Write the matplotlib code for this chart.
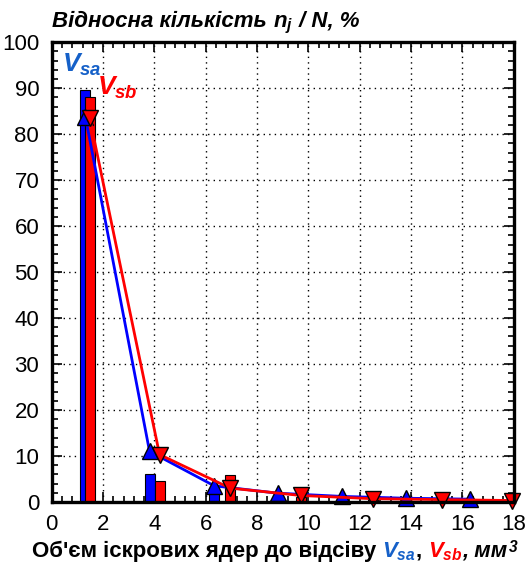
import matplotlib
matplotlib.use("Agg")
import matplotlib.pyplot as plt
from matplotlib.ticker import MultipleLocator
from matplotlib.transforms import IdentityTransform

plt.rcParams['font.family'] = ['Liberation Sans', 'DejaVu Sans']
plt.rcParams['mathtext.fontset'] = 'custom'
plt.rcParams['mathtext.it'] = 'Liberation Sans:italic:bold'
plt.rcParams['mathtext.rm'] = 'Liberation Sans:italic:bold'
plt.rcParams['mathtext.bf'] = 'Liberation Sans:italic:bold'

# data
sa_x = [1.31, 3.81, 6.33, 8.8, 11.3, 13.8, 16.3]
sa_bars = [89.6, 6.1, 2.2, 1.0, 0.8, 0.6, 0.5]
sa_line = [83.8, 11.0, 3.5, 1.9, 1.2, 0.8, 0.6]

sb_x = [1.48, 4.2, 6.95, 9.7, 12.5, 15.2, 17.95]
sb_bars = [88.1, 4.6, 5.9, 1.0, 0.6, 0.4, 0.3]
sb_line = [83.5, 10.3, 3.0, 1.4, 0.7, 0.5, 0.3]

blue = '#0000ff'
red = '#ff0000'
text_blue = '#1560c8'

fig = plt.figure(figsize=(5.28, 5.71), dpi=100)
ax = fig.add_axes([0.098, 0.121, 0.875, 0.805])

ax.bar(sa_x, sa_bars, width=0.39, color=blue, edgecolor='black', linewidth=0.8, zorder=2)
ax.bar(sb_x, sb_bars, width=0.39, color=red, edgecolor='black', linewidth=0.8, zorder=2)

ax.plot(sa_x, sa_line, color=blue, lw=2, marker='^', ms=11, mfc=blue, mec='black',
        mew=1, zorder=3, clip_on=False)
ax.plot(sb_x, sb_line, color=red, lw=2, marker='v', ms=11, mfc=red, mec='black',
        mew=1, zorder=4, clip_on=False)

ax.set_xlim(0, 18)
ax.set_ylim(0, 100)
ax.xaxis.set_major_locator(MultipleLocator(2))
ax.xaxis.set_minor_locator(MultipleLocator(0.4))
ax.yaxis.set_major_locator(MultipleLocator(10))
ax.yaxis.set_minor_locator(MultipleLocator(2))
ax.tick_params(which='both', direction='in', top=True, right=True, width=1.2,
               labelsize=16, pad=9)
ax.tick_params(which='major', length=7)
ax.tick_params(which='minor', length=4)
ax.grid(True, which='major', color='black', linestyle=(0, (1, 3)), lw=1, zorder=0)
for sp in ax.spines.values():
    sp.set_linewidth(2.4)
    sp.set_zorder(5)

ax.text(0.39, 93.5, '$V_{sa}$', color=text_blue, fontsize=19, ha='left', va='baseline')
ax.text(1.75, 88.5, '$V_{sb}$', color=red, fontsize=19, ha='left', va='baseline')


# pieces of text with different colours, placed one after another (pixels)
def rich_text(x, y, parts, size, center=False):
    r = fig.canvas.get_renderer()
    texts = []
    for s, c, style in parts:
        t = fig.text(0, y, s, color=c, fontsize=size, fontweight='bold', fontstyle=style,
                     va='baseline', ha='left', transform=IdentityTransform())
        texts.append(t)
    widths = [t.get_window_extent(r).width for t in texts]
    if center:
        x = x - sum(widths) / 2
    for t, w in zip(texts, widths):
        t.set_x(x)
        x += w


rich_text(52, 544, [('Відносна кількість ', 'black', 'italic'),
                    ('$n_j$', 'black', 'italic'),
                    (' / N, %', 'black', 'italic')], 16)

rich_text(275, 14, [("Об'єм іскрових ядер до відсіву ", 'black', 'normal'),
                    ('$V_{sa}$', text_blue, 'italic'),
                    (', ', 'black', 'normal'),
                    ('$V_{sb}$', red, 'italic'),
                    (', мм', 'black', 'italic'),
                    ('$^3$', 'black', 'italic')], 16, center=True)

fig.savefig('out.png', dpi=100)
